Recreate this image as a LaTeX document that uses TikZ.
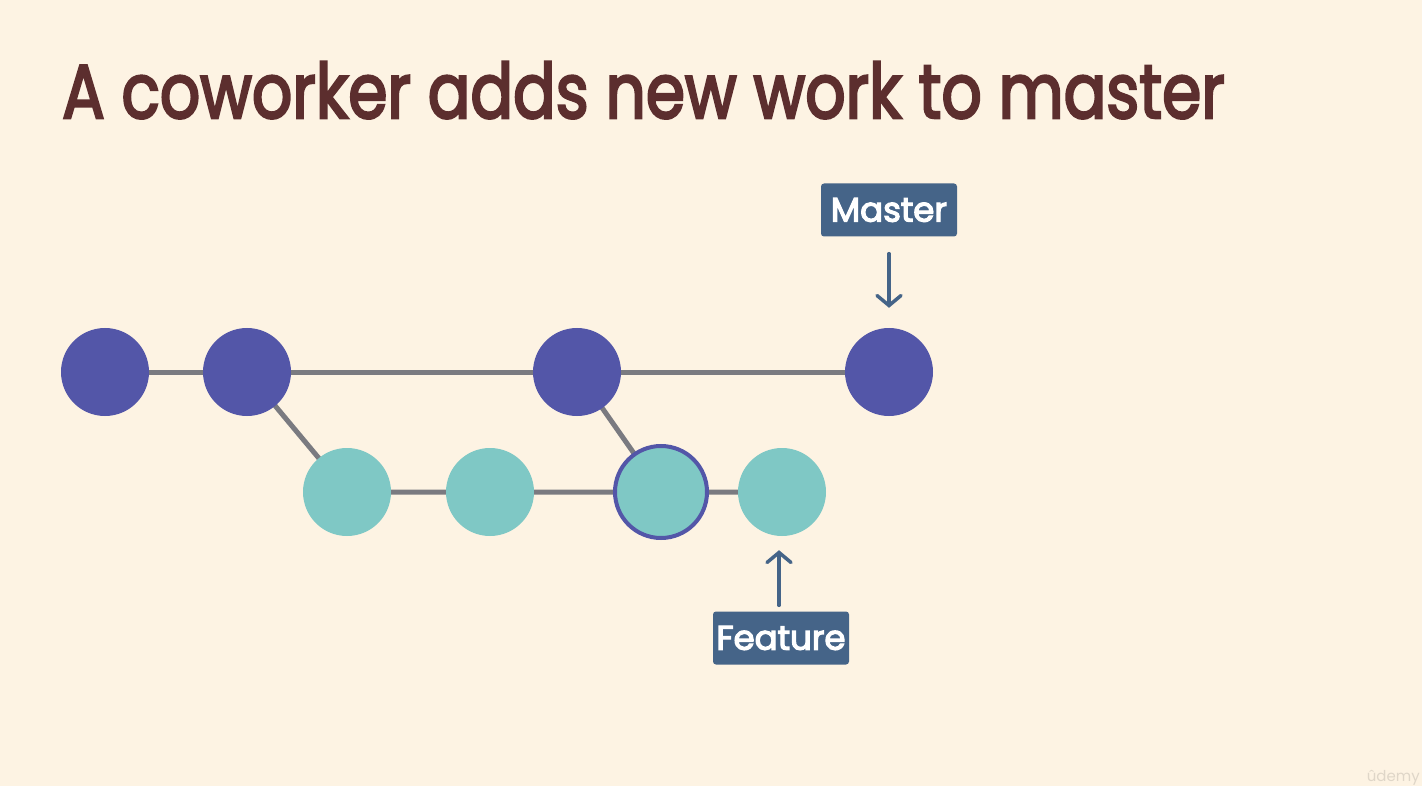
\documentclass[tikz,border=0pt]{standalone}
\usepackage{fontspec}
\setmainfont{Poppins}
\usetikzlibrary{arrows.meta}
% text filled and stroked in its own colour, for a heavier weight
\newcommand\heavytext[2]{\special{pdf:literal direct #1 w 2 Tr}#2\special{pdf:literal direct 0 Tr}}
\definecolor{bgcream}{RGB}{253,243,227}
\definecolor{titlebrown}{RGB}{92,46,46}
\definecolor{mastercol}{RGB}{83,86,168}
\definecolor{featurecol}{RGB}{127,200,197}
\definecolor{edgegray}{RGB}{122,122,128}
\definecolor{tagblue}{RGB}{69,100,136}
\begin{document}
\begin{tikzpicture}[x=1pt,y=-1pt,
  mcommit/.style={circle,fill=mastercol,minimum size=88pt,inner sep=0pt},
  fcommit/.style={circle,fill=featurecol,minimum size=88pt,inner sep=0pt},
  headcommit/.style={fcommit,draw=mastercol,line width=4pt,minimum size=92pt},
  edge/.style={draw=edgegray,line width=5pt},
  tag/.style={fill=tagblue,rounded corners=3pt,text=white,minimum width=136pt,minimum height=53pt,inner sep=0pt,font=\fontsize{34}{40}\selectfont},
  pointer/.style={draw=tagblue,line width=3.5pt,line cap=round,-{Straight Barb[length=10pt,width=24pt,line cap=round]}}]
\fill[bgcream] (0,0) rectangle (1422,786);
\useasboundingbox (0,0) rectangle (1422,786);

% title
\node[anchor=base west,inner sep=0pt,text=titlebrown,font=\fontsize{76}{80}\selectfont] (title) at (62,118) {\scalebox{0.83}[1]{\heavytext{2.6}{A coworker adds new work to master}}};

% commit positions
\coordinate (m1) at (105,372);
\coordinate (m2) at (247,372);
\coordinate (m3) at (577,372);
\coordinate (m4) at (889,372);
\coordinate (f1) at (347,492);
\coordinate (f2) at (490,492);
\coordinate (f3) at (661,492);
\coordinate (f4) at (782,492);

% history lines, drawn below the commits
\path[edge] (m1) -- (m2) -- (m3) -- (m4);
\path[edge] (m2) -- (f1) -- (f2) -- (f3) -- (f4);
\path[edge] (m3) -- (f3);

% commits
\node[mcommit] (c1) at (m1) {};
\node[mcommit] (c2) at (m2) {};
\node[mcommit] (c3) at (m3) {};
\node[mcommit] (c4) at (m4) {};
\node[fcommit] (d1) at (f1) {};
\node[fcommit] (d2) at (f2) {};
\node[headcommit] (d3) at (f3) {};
\node[fcommit] (d4) at (f4) {};

% branch pointers
\node[tag] (master) at (889,210) {\heavytext{1.2}{Master}};
\node[tag] (feature) at (781,638) {\heavytext{1.2}{Feature}};
\draw[pointer] ([yshift=-17pt]master.south) -- ([yshift=20pt]c4.north);
\draw[pointer] ([xshift=-2pt,yshift=6pt]feature.north) -- ([xshift=-3pt,yshift=-14pt]d4.south);

\node[anchor=base east,inner sep=0pt,text=black!12!bgcream,font=\fontsize{15}{15}\selectfont] (mark) at (1420,781) {ûdemy};
\end{tikzpicture}
\end{document}
